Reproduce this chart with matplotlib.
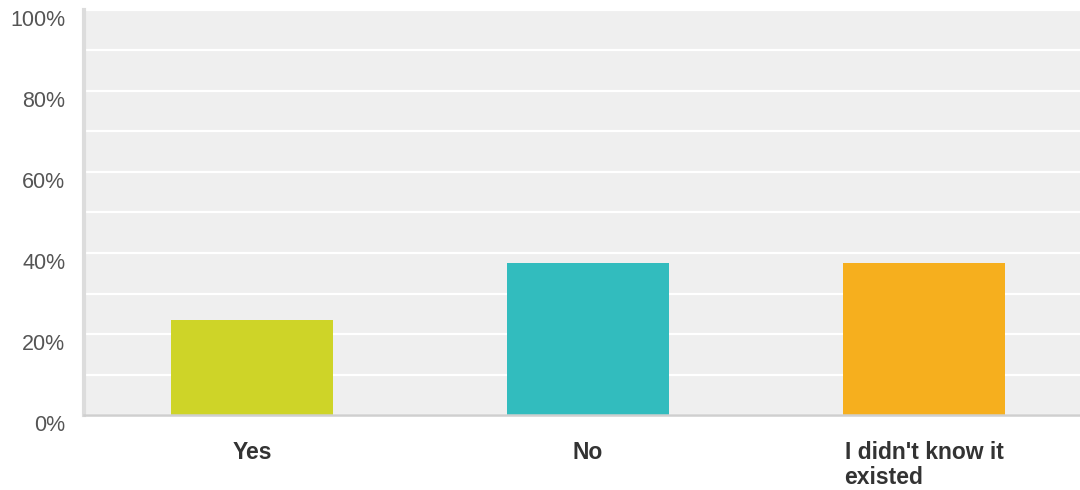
import matplotlib
matplotlib.use("Agg")
import matplotlib.pyplot as plt
import matplotlib.transforms as mtransforms
from matplotlib.ticker import MultipleLocator, FixedLocator

categories = ["Yes", "No", "I didn't know it\nexisted"]
values = [23.5, 37.5, 37.5]
colors = ["#ced428", "#32bcbe", "#f6af1e"]
ytick_vals = [0, 20, 40, 60, 80, 100]
ytick_labels = ["0%", "20%", "40%", "60%", "80%", "100%"]

W, H = 1080, 490
fig = plt.figure(figsize=(W / 100, H / 100), dpi=100)
left, right, bottom, top = 84, 1092, 415, 10
ax = fig.add_axes([left / W, (H - bottom) / H, (right - left) / W, (bottom - top) / H])
ax.set_facecolor("#efefef")

x = list(range(len(categories)))
ax.bar(x, values, width=0.48, color=colors, zorder=3)

ax.set_xlim(-0.5, len(categories) - 0.5)
ax.set_ylim(0, 100)
ax.yaxis.set_major_locator(FixedLocator(ytick_vals))
ax.yaxis.set_minor_locator(MultipleLocator(10))
ax.set_yticks(ytick_vals)
ax.set_yticklabels(ytick_labels)
ax.grid(axis="y", which="both", color="white", linewidth=1.6, zorder=1)
ax.set_axisbelow(True)

ax.set_xticks(x)
ax.set_xticklabels(categories, fontfamily="Liberation Sans", fontweight="bold",
                   fontsize=16.5, color="#333333", multialignment="left",
                   linespacing=1.08)
for lab in ax.get_xticklabels():
    lab.set_verticalalignment("top")

ax.tick_params(axis="x", length=0, pad=19)
ax.tick_params(axis="y", which="both", length=0, pad=13.5, labelsize=15.5,
               labelcolor="#555555")
for lab in ax.get_yticklabels():
    lab.set_fontfamily("Liberation Sans")
    lab.set_transform(lab.get_transform() + mtransforms.ScaledTranslation(0, -8 / 100, fig.dpi_scale_trans))

for s in ["top", "right"]:
    ax.spines[s].set_visible(False)
ax.spines["left"].set_color("#dcdcdc")
ax.spines["left"].set_linewidth(3)
ax.spines["bottom"].set_color("#cfcfcf")
ax.spines["bottom"].set_linewidth(1.8)
ax.spines["bottom"].set_zorder(4)

fig.savefig("out.png", dpi=100, facecolor="white")
